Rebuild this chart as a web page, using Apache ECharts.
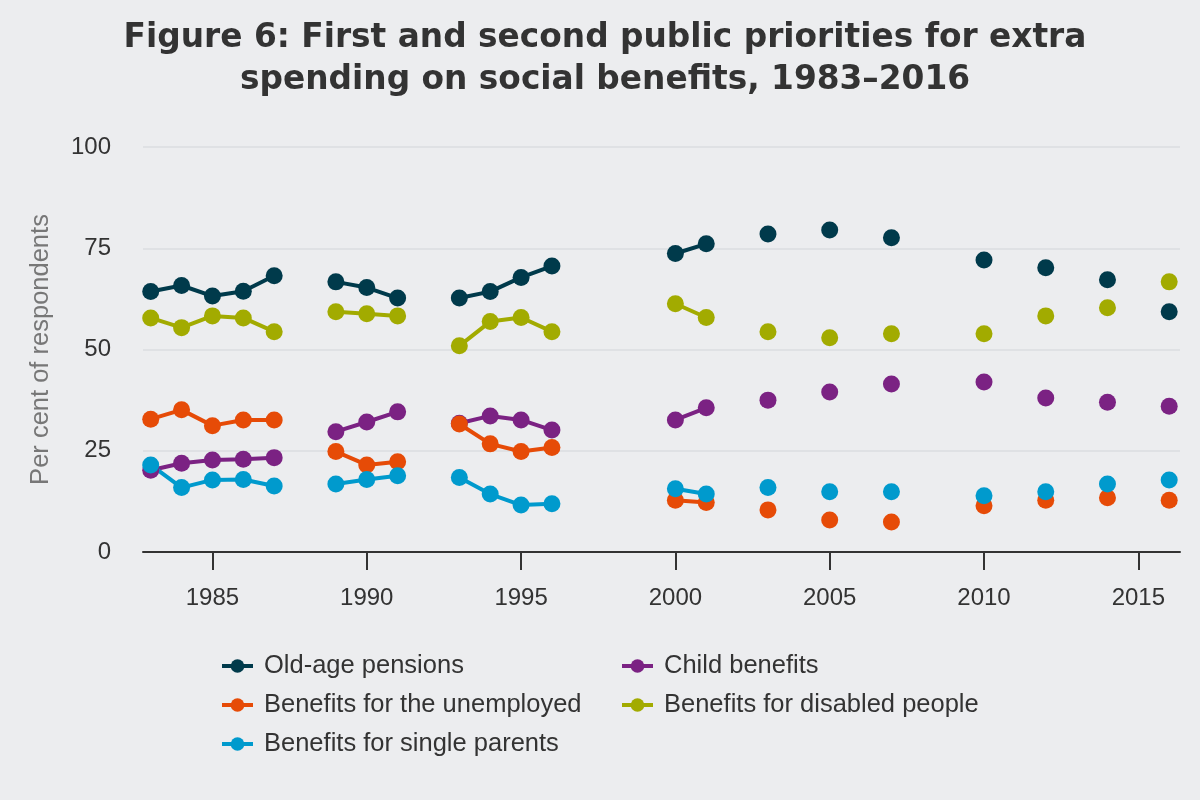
<!DOCTYPE html>
<html>
<head>
<meta charset="utf-8">
<script src="https://cdn.jsdelivr.net/npm/echarts@6/dist/echarts.min.js"></script>
<style>
  html, body { margin: 0; padding: 0; background: #ecedef; }
  #chart { width: 1200px; height: 800px; }
</style>
</head>
<body>
<div id="chart"></div>
<script>
// survey years (gaps between them break the lines)
var years = [1983, 1984, 1985, 1986, 1987, 1989, 1990, 1991, 1993, 1994, 1995, 1996,
             2000, 2001, 2003, 2005, 2007, 2010, 2012, 2014, 2016];

var oldAge     = [64.3, 65.8, 63.2, 64.4, 68.2, 66.7, 65.3, 62.7, 62.7, 64.3, 67.8, 70.6,
                  73.7, 76.1, 78.5, 79.5, 77.6, 72.1, 70.2, 67.2, 59.3];
var child      = [20.2, 21.9, 22.7, 22.9, 23.3, 29.7, 32.1, 34.6, 31.8, 33.6, 32.6, 30.1,
                  32.6, 35.6, 37.5, 39.5, 41.5, 42.0, 38.0, 37.0, 36.0];
var unemployed = [32.8, 35.1, 31.2, 32.6, 32.6, 24.8, 21.5, 22.3, 31.6, 26.7, 24.8, 25.8,
                  12.8, 12.2, 10.4, 7.9, 7.4, 11.4, 12.8, 13.4, 12.8];
var disabled   = [57.8, 55.4, 58.3, 57.8, 54.4, 59.3, 58.8, 58.3, 50.9, 56.9, 57.9, 54.4,
                  61.3, 57.9, 54.4, 52.9, 53.9, 53.9, 58.3, 60.3, 66.7];
var single     = [21.5, 15.9, 17.8, 17.9, 16.3, 16.8, 17.9, 18.8, 18.4, 14.3, 11.6, 11.9,
                  15.6, 14.3, 15.9, 14.9, 14.9, 13.9, 14.9, 16.8, 17.8];

var xTicks = [1985, 1990, 1995, 2000, 2005, 2010, 2015];

var names  = ['Old-age pensions', 'Child benefits', 'Benefits for the unemployed',
              'Benefits for disabled people', 'Benefits for single parents'];
var colors = ['#003a4b', '#7b2283', '#e64b07', '#a2ab00', '#009acd'];
var values = [oldAge, child, unemployed, disabled, single];

// pair years with values, put a null in where a year is skipped so the line breaks
function toPoints(vals) {
    var out = [];
    for (var i = 0; i < years.length; i++) {
        if (i > 0 && years[i] - years[i - 1] > 1) out.push(null);
        out.push([years[i], vals[i]]);
    }
    return out;
}

var series = names.map(function (n, i) {
    return {
        name: n,
        type: 'line',
        data: toPoints(values[i]),
        connectNulls: false,
        showSymbol: true,
        showAllSymbol: true,
        symbol: 'circle',
        symbolSize: 17,
        lineStyle: { width: 4, color: colors[i] },
        itemStyle: { color: colors[i] },
        emphasis: { disabled: true },
        animation: false
    };
});

var legendText = { fontFamily: 'Liberation Sans', fontSize: 25.5, color: '#333', padding: [0, 0, 0, 6] };

var myChart = echarts.init(document.getElementById('chart'));
var option = {
    backgroundColor: '#ecedef',
    title: {
        text: 'Figure 6: First and second public priorities for extra\nspending on social benefits, 1983\u20132016',
        left: 600,
        top: 12,
        textAlign: 'center',
        textStyle: {
            fontFamily: 'DejaVu Sans',
            fontWeight: 'bold',
            fontSize: 32.8,
            lineHeight: 42,
            color: '#333'
        }
    },
    legend: [{
        orient: 'vertical',
        left: 220,
        top: 653,
        padding: 0,
        itemWidth: 31,
        itemHeight: 17,
        itemGap: 13,
        lineStyle: { width: 4 },
        textStyle: legendText,
        data: [names[0], names[2], names[4]]
    }, {
        orient: 'vertical',
        left: 620,
        top: 653,
        padding: 0,
        itemWidth: 31,
        itemHeight: 17,
        itemGap: 13,
        lineStyle: { width: 4 },
        textStyle: legendText,
        data: [names[1], names[3]]
    }],
    grid: {
        left: 143,
        right: 20,
        top: 147,
        bottom: 248,
        containLabel: false,
        outerBoundsMode: 'none'
    },
    xAxis: {
        type: 'value',
        min: 1982.75,
        max: 2016.35,
        axisLine: { lineStyle: { color: '#333', width: 2 } },
        axisTick: { show: true, length: 18, customValues: xTicks, lineStyle: { color: '#333', width: 2 } },
        axisLabel: {
            customValues: xTicks,
            formatter: function (v) { return String(v); },
            fontFamily: 'Liberation Sans',
            fontSize: 24,
            color: '#333',
            margin: 34
        },
        splitLine: { show: false }
    },
    yAxis: {
        type: 'value',
        min: 0,
        max: 100,
        interval: 25,
        name: 'Per cent of respondents',
        nameLocation: 'middle',
        nameGap: 89,
        nameTextStyle: { fontFamily: 'Liberation Sans', fontSize: 25.5, color: '#777' },
        axisLine: { show: false },
        axisTick: { show: false },
        axisLabel: {
            fontFamily: 'Liberation Sans',
            fontSize: 24,
            color: '#333',
            margin: 32
        },
        splitLine: { lineStyle: { color: '#dfe1e4', width: 2 } }
    },
    series: series
};
myChart.setOption(option);
window.addEventListener('resize', function () {
    myChart.resize();
});
</script>
</body>
</html>
